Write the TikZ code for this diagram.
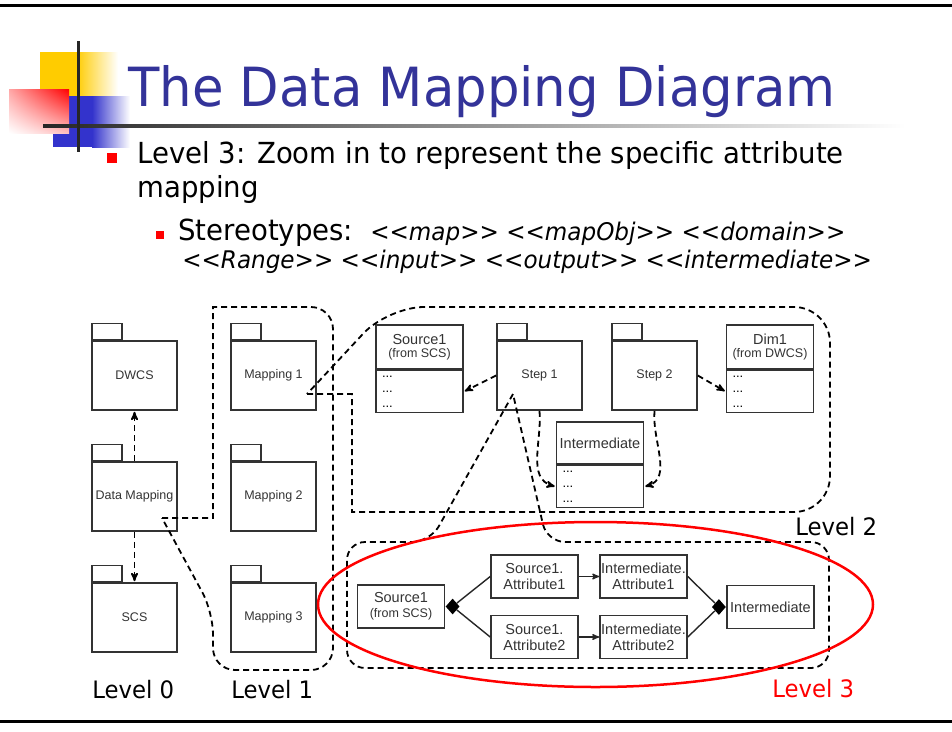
\documentclass[tikz,border=0pt]{standalone}
\usepackage{fontspec}
\setmainfont{Liberation Sans}
\newfontfamily\slidefont[FakeStretch=0.95]{DejaVu Sans}
\usepackage{tikz}
\usetikzlibrary{shapes,arrows,shadings,positioning}
\definecolor{titleblue}{HTML}{333399}
\definecolor{logoyellow}{HTML}{FFCC00}
\definecolor{logoblue}{HTML}{3333CC}
\newcommand{\pkgfont}{\fontsize{12.5}{14}\selectfont}
\newcommand{\clsfont}{\fontsize{14.5}{16}\selectfont}
\newcommand{\fromfont}{\fontsize{12.5}{14}\selectfont}
\newcommand{\bodyfont}{\slidefont\fontsize{29}{34}\selectfont}
\newcommand{\stereofont}{\slidefont\itshape\fontsize{24.3}{28}\selectfont}
\newcommand{\stereo}[1]{<\kern0pt<#1>\kern0pt>}

\begin{document}
\begin{tikzpicture}[x=1pt,y=-1pt,>=stealth',semithick]
\tikzstyle{pkg}=[draw=black!80,line width=1.6pt,minimum width=85pt,minimum height=69pt,inner sep=0pt,font=\pkgfont,text=black!80]
\tikzstyle{pkgtab}=[draw=black!80,line width=1.6pt,minimum width=30pt,minimum height=16pt,inner sep=0pt,anchor=south west]
\tikzstyle{clshead}=[draw=black!80,line width=1.6pt,minimum width=87pt,minimum height=44pt,inner sep=1pt,align=center,font=\clsfont,text=black!80]
\tikzstyle{clsbody}=[draw=black!80,line width=1.6pt,minimum width=87pt,minimum height=42pt,text width=75pt,inner xsep=6pt,inner ysep=0pt,align=left,font=\fontsize{13}{15}\selectfont,anchor=north]
\tikzstyle{attr}=[draw=black!80,line width=1.6pt,minimum width=87pt,minimum height=43pt,inner sep=1pt,align=center,font=\clsfont,text=black!80]
\tikzstyle{dmd}=[diamond,fill=black,minimum width=14pt,minimum height=16pt,inner sep=0pt]
\tikzstyle{link}=[line width=1.4pt,black!85]
\tikzstyle{dep}=[->,line width=1.8pt,dash pattern=on 6pt off 4pt,shorten >=1pt]
\tikzstyle{zoomline}=[line width=1.8pt,dash pattern=on 6pt off 4pt]
\tikzstyle{redbullet}=[fill=red,inner sep=0pt,minimum size=10pt]
\tikzstyle{slidetext}=[anchor=base west,inner sep=0pt,font=\bodyfont]
\tikzstyle{lvl}=[anchor=base west,inner sep=0pt,font=\slidefont\fontsize{24}{28}\selectfont]
\useasboundingbox (0,0) rectangle (952,731);

% slide frame and logo
\draw[line width=3pt] (0,5) -- (952,5);
\draw[line width=3pt] (0,721) -- (952,721);
\fill[logoyellow] (40,52) rectangle (76,97);
\shade[left color=logoyellow,right color=white] (76,52) rectangle (118,97);
\fill[logoblue] (53,96) rectangle (92,147);
\shade[left color=logoblue,right color=white] (92,96) rectangle (130,147);
\shade[upper right=red,upper left=red!35,lower left=white,lower right=red!25] (9,89) rectangle (69,133);
\shade[left color=black!85,right color=white] (43,124.5) rectangle (905,127.5);
\draw[line width=3pt,black!85] (78,41) -- (78,152);

\node[anchor=base west,inner sep=0pt,text=titleblue,font=\slidefont\fontsize{54}{60}\selectfont] (title) at (128,106) {The Data Mapping Diagram};
\node[redbullet] (b1) at (112,158) {};
\node[slidetext] (t1) at (137,163) {Level 3: Zoom in to represent the specific attribute};
\node[slidetext] (t2) at (137,197) {mapping};
\node[redbullet,minimum size=8.5pt] (b2) at (160,235) {};
\node[slidetext] (t3) at (178,240) {Stereotypes:};
\node[anchor=base west,inner sep=0pt,font=\stereofont] (t4) at (370,240) {\stereo{map} \stereo{mapObj} \stereo{domain}};
\node[anchor=base west,inner sep=0pt,font=\stereofont] (t5) at (182,268) {\stereo{Range} \stereo{input} \stereo{output} \stereo{intermediate}};

% level 0 and 1
\node[pkg] (DWCS) at (134.5,375.5) {DWCS};
\node[pkgtab] (DWCStab) at (DWCS.north west) {};
\node[pkg] (DM) at (134.5,496.5) {Data Mapping};
\node[pkgtab] (DMtab) at (DM.north west) {};
\node[pkg] (SCS) at (134.5,617.5) {SCS};
\node[pkgtab] (SCStab) at (SCS.north west) {};
\node[pkg] (M1) at (273.5,375.5) {Mapping 1};
\node[pkgtab] (M1tab) at (M1.north west) {};
\node[pkg] (M2) at (273.5,496.5) {Mapping 2};
\node[pkgtab] (M2tab) at (M2.north west) {};
\node[pkg] (M3) at (273.5,617.5) {Mapping 3};
\node[pkgtab] (M3tab) at (M3.north west) {};
\draw[dep] (DM.north) -- (DWCS.south);
\draw[dep] (DM.south) -- (SCS.north);

% level 2
\node[clshead] (SRC) at (419.5,347) {Source1\\[-3pt]{\fromfont(from SCS)}};
\node[clsbody] (SRCb) at (SRC.south) {...\\...\\...};
\node[pkg] (ST1) at (539.5,375.5) {Step 1};
\node[pkgtab] (ST1tab) at (ST1.north west) {};
\node[pkg] (ST2) at (654.5,375.5) {Step 2};
\node[pkgtab] (ST2tab) at (ST2.north west) {};
\node[clshead] (DIM) at (770,347) {Dim1\\[-3pt]{\fromfont(from DWCS)}};
\node[clsbody] (DIMb) at (DIM.south) {...\\...\\...};
\node[clshead,minimum height=42pt] (INT) at (600,443) {Intermediate};
\node[clsbody] (INTb) at (INT.south) {...\\...\\...};
\draw[dep] (ST1.west) -- (SRCb.east);
\draw[dep] (ST2.east) -- (DIMb.west);
\draw[dep] (ST1.south) to[out=-85,in=165] (INTb.west);
\draw[dep] (ST2.south) to[out=-95,in=15] (INTb.east);

% level 3
\node[attr] (S1) at (401,606.5) {Source1\\[-1pt]{\fromfont(from SCS)}};
\node[attr] (SA1) at (534.5,576.5) {Source1.\\Attribute1};
\node[attr] (SA2) at (534.5,637) {Source1.\\Attribute2};
\node[attr] (IA1) at (643.5,576.5) {Intermediate.\\Attribute1};
\node[attr] (IA2) at (643.5,637) {Intermediate.\\Attribute2};
\node[attr] (IM) at (770.5,607) {Intermediate};
\node[dmd,anchor=west] (DL) at (S1.east) {};
\node[dmd,anchor=east] (DR) at (IM.west) {};
\draw[link] (DL) -- (SA1.west);
\draw[link] (DL) -- (SA2.west);
\draw[link,->] (SA1) -- (IA1);
\draw[link,->] (SA2) -- (IA2);
\draw[link] (IA1.east) -- (DR);
\draw[link] (IA2.east) -- (DR);

% zoom outlines
\coordinate (DMz) at (162,518);
\coordinate (M1z) at (307,394);
\coordinate (ST1z) at (513,394);
\draw[zoomline] (DMz) -- (213,518) -- (213,307) [rounded corners=22pt] -- (333,307) -- (333,670) -- (213,670) -- (213,612) -- (DMz);
\draw[zoomline] (M1z) -- (352,394) -- (352,512) [rounded corners=36pt] -- (830,512) -- (830,307) -- (388,307) -- (M1z);
\draw[zoomline,rounded corners=18pt] (ST1z) -- (430,542) -- (347,542) -- (347,668) -- (829,668) -- (829,542) -- (547,542) -- (ST1z);
\draw[red,line width=2.5pt] (595.5,604.5) ellipse [x radius=277.5pt,y radius=82.5pt];

\node[lvl] (lv0) at (92,698) {Level 0};
\node[lvl] (lv1) at (231,698) {Level 1};
\node[lvl] (lv2) at (795,535) {Level 2};
\node[lvl,text=red] (lv3) at (772,697) {Level 3};
\end{tikzpicture}
\end{document}
